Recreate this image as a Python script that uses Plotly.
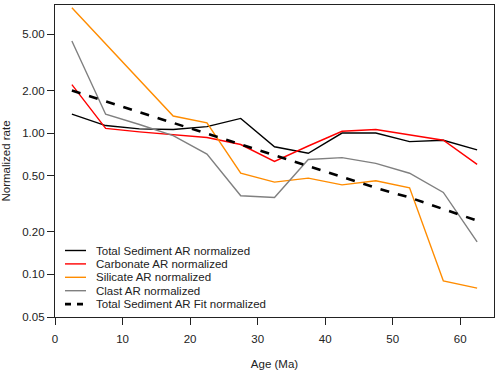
import numpy as np
import plotly.graph_objects as go

# Age bins (Ma), midpoints
age = [2.5, 7.5, 12.5, 17.5, 22.5, 27.5, 32.5, 37.5, 42.5, 47.5, 52.5, 57.5, 62.5]

total = [1.36, 1.13, 1.07, 1.06, 1.11, 1.27, 0.80, 0.72, 1.00, 1.00, 0.87, 0.89, 0.76]
carbonate = [2.2, 1.08, 1.02, 0.97, 0.93, 0.83, 0.63, 0.81, 1.03, 1.06, 0.97, 0.89, 0.60]
silicate = [7.7, 4.3, 2.36, 1.32, 1.18, 0.52, 0.45, 0.48, 0.43, 0.46, 0.41, 0.090, 0.080]
clast = [4.48, 1.36, 1.15, 0.96, 0.71, 0.36, 0.35, 0.65, 0.67, 0.61, 0.52, 0.38, 0.17]
total_fit = [2.0, 1.68, 1.41, 1.18, 0.99, 0.83, 0.70, 0.59, 0.49, 0.41, 0.35, 0.29, 0.24]

ytick_vals = [0.05, 0.10, 0.20, 0.50, 1.00, 2.00, 5.00]
ytick_text = ["0.05", "0.10", "0.20", "0.50", "1.00", "2.00", "5.00"]

series = [
    ("Total Sediment AR normalized", total, "black", 1.4, "solid"),
    ("Carbonate AR normalized", carbonate, "#ff0000", 1.4, "solid"),
    ("Silicate AR normalized", silicate, "#ff8c00", 1.4, "solid"),
    ("Clast AR normalized", clast, "#808080", 1.4, "solid"),
    ("Total Sediment AR Fit normalized", total_fit, "black", 2.6, "dash"),
]

fig = go.Figure()
for name, vals, color, width, dash in series:
    fig.add_trace(
        go.Scatter(
            x=age,
            y=vals,
            name=name,
            mode="lines",
            line=dict(color=color, width=width, dash=dash),
        )
    )

# compact R-style legend (plotly's own legend rows are too tall), drawn in paper coords
W, H = 439, 312  # plot area size in px
row0, step = 66.5, 13.4  # px above plot bottom of the first row, row spacing
for i, (name, vals, color, width, dash) in enumerate(series):
    yp = (row0 - i * step) / H
    fig.add_shape(
        type="line", xref="paper", yref="paper",
        x0=10 / W, x1=31 / W, y0=yp, y1=yp,
        line=dict(color=color, width=width, dash="6px,6px" if dash == "dash" else "solid"),
    )
    fig.add_annotation(
        text=name, xref="paper", yref="paper", x=39 / W, y=yp,
        xanchor="left", yanchor="middle", showarrow=False,
        font=dict(size=11.5, color="#222222"),
    )

axis_style = dict(
    showline=True,
    mirror=True,
    linecolor="#222222",
    linewidth=1.2,
    showgrid=False,
    zeroline=False,
    automargin=False,
    ticks="outside",
    ticklen=7,
    tickcolor="#222222",
    tickfont=dict(size=11.5, color="#222222"),
)

fig.update_xaxes(
    range=[0, 65],
    tickvals=[0, 10, 20, 30, 40, 50, 60],
    ticklabelstandoff=4,
    title=dict(text="Age (Ma)", font=dict(size=11.5, color="#222222"), standoff=16),
    **axis_style,
)
fig.update_yaxes(
    type="log",
    range=[np.log10(0.05), np.log10(8.05)],
    tickvals=ytick_vals,
    ticktext=ytick_text,
    title=dict(text="Normalized rate", font=dict(size=11.5, color="#222222"), standoff=10),
    **axis_style,
)
fig.update_layout(
    width=500,
    height=377,
    margin=dict(l=55, r=6, t=5, b=60),
    paper_bgcolor="white",
    plot_bgcolor="white",
    font=dict(family="Liberation Sans, Arial, sans-serif", size=11.5, color="#222222"),
    showlegend=False,
)

# drop the page's default body margin so the 500x377 figure sits at the window origin
fig.write_html(
    "out.html",
    config={"displayModeBar": False},
    post_script="document.body.style.margin='0';",
)
